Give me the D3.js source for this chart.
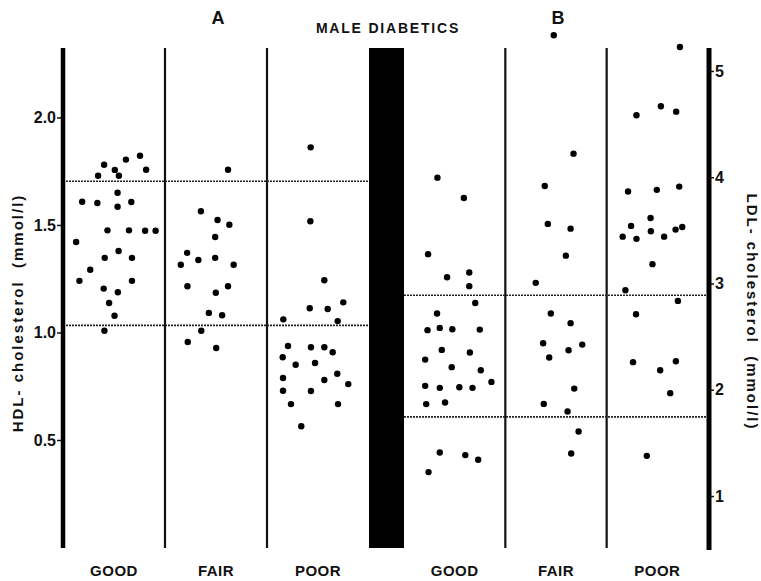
<!DOCTYPE html>
<html>
<head>
<meta charset="utf-8">
<script src="https://cdn.jsdelivr.net/npm/d3@7"></script>
<style>
  body { margin: 0; background: #fff; }
  text { font-family: "Liberation Sans", Arial, sans-serif; font-weight: bold; fill: #111; }
</style>
</head>
<body>
<div id="chart"></div>
<script>
// categories of diabetic control
const categories = ["GOOD", "FAIR", "POOR"];

// panel A: HDL-cholesterol (mmol/l) per category, [value, jitter within column]
const hdlGood = [[1.822,0.755],[1.804,0.617],[1.780,0.403],[1.756,0.508],[1.757,0.815],[1.729,0.344],
  [1.729,0.548],[1.650,0.535],[1.608,0.188],[1.602,0.337],[1.607,0.670],[1.585,0.535],[1.475,0.436],
  [1.475,0.647],[1.473,0.805],[1.473,0.908],[1.421,0.129],[1.379,0.545],[1.347,0.409],[1.347,0.676],
  [1.292,0.267],[1.240,0.161],[1.240,0.676],[1.204,0.399],[1.187,0.538],[1.137,0.452],[1.078,0.505],[1.008,0.406]];
const hdlFair = [[1.757,0.618],[1.564,0.352],[1.523,0.515],[1.501,0.631],[1.444,0.492],[1.370,0.217],
  [1.347,0.492],[1.337,0.327],[1.315,0.155],[1.315,0.673],[1.215,0.220],[1.215,0.618],[1.185,0.498],
  [1.091,0.430],[1.080,0.560],[1.008,0.356],[0.956,0.223],[0.928,0.502]];
const hdlPoor = [[1.861,0.428],[1.517,0.425],[1.243,0.562],[1.140,0.748],[1.113,0.419],[1.109,0.595],
  [1.061,0.160],[1.053,0.693],[0.937,0.206],[0.931,0.431],[0.931,0.562],[0.908,0.644],[0.885,0.154],
  [0.850,0.281],[0.858,0.471],[0.808,0.689],[0.760,0.797],[0.788,0.157],[0.779,0.562],[0.729,0.157],
  [0.728,0.431],[0.667,0.235],[0.667,0.696],[0.564,0.336]];

// panel B: LDL-cholesterol (mmol/l) per category, [value, jitter within column]
const ldlGood = [[3.996,0.330],[3.805,0.591],[3.276,0.238],[3.059,0.425],[3.103,0.644],[2.975,0.644],
  [2.817,0.703],[2.717,0.326],[2.561,0.232],[2.582,0.353],[2.570,0.477],[2.566,0.748],[2.375,0.373],
  [2.350,0.650],[2.284,0.209],[2.213,0.471],[2.184,0.758],[2.074,0.863],[2.037,0.209],[2.018,0.353],
  [2.024,0.546],[2.018,0.676],[1.865,0.219],[1.880,0.405],[1.409,0.353],[1.385,0.605],[1.341,0.732],[1.225,0.242]];
const ldlFair = [[5.336,0.478],[4.222,0.673],[3.918,0.389],[3.561,0.419],[3.516,0.644],[3.262,0.597],
  [3.006,0.300],[2.717,0.449],[2.627,0.644],[2.438,0.373],[2.425,0.759],[2.372,0.624],[2.303,0.433],
  [2.011,0.680],[1.867,0.379],[1.795,0.614],[1.607,0.723],[1.400,0.650]];
const ldlPoor = [[5.226,0.723],[4.668,0.535],[4.583,0.294],[4.617,0.686],[3.912,0.716],[3.881,0.495],
  [3.865,0.211],[3.617,0.433],[3.542,0.241],[3.532,0.746],[3.507,0.680],[3.441,0.158],[3.420,0.294],
  [3.492,0.436],[3.441,0.567],[3.182,0.452],[2.937,0.185],[2.836,0.703],[2.711,0.290],[2.260,0.260],
  [2.269,0.683],[2.184,0.528],[1.968,0.627],[1.378,0.396]];

// reference limits (dotted lines)
const hdlLimits = [1.703, 1.033];
const ldlLimits = [2.890, 1.745];

// tick values
const hdlTicks = [0.5, 1.0, 1.5, 2.0];
const ldlTicks = [1, 2, 3, 4, 5];

const width = 761, height = 581;
const plotTop = 48, plotBottom = 548;

let svg = d3.select("#chart").append("svg")
    .attr("width", width)
    .attr("height", height);

// scales for both panels
let xA = d3.scaleBand().domain(categories).range([63, 369]);
let xB = d3.scaleBand().domain(categories).range([404, 708]);
let yHDL = d3.scaleLinear().domain([0, 2.323]).range([547.5, plotTop]);
let yLDL = d3.scaleLinear().domain([0.511, 5.216]).range([plotBottom, plotTop]);

// black separator bar between the panels
svg.append("rect")
    .attr("x", xA.range()[1])
    .attr("y", plotTop)
    .attr("width", xB.range()[0] - xA.range()[1])
    .attr("height", plotBottom - plotTop)
    .attr("fill", "#000");

// column dividers
function drawDividers(x) {
    categories.slice(1).forEach(function(c) {
        svg.append("line")
            .attr("x1", x(c)).attr("x2", x(c))
            .attr("y1", plotTop).attr("y2", plotBottom)
            .attr("stroke", "#111")
            .attr("stroke-width", 2.2);
    });
}
drawDividers(xA);
drawDividers(xB);

// dotted reference lines
function drawLimits(limits, x, y) {
    limits.forEach(function(v) {
        svg.append("line")
            .attr("x1", x.range()[0]).attr("x2", x.range()[1])
            .attr("y1", y(v)).attr("y2", y(v))
            .attr("stroke", "#222")
            .attr("stroke-width", 1.6)
            .attr("stroke-dasharray", "2,1");
    });
}
drawLimits(hdlLimits, xA, yHDL);
drawLimits(ldlLimits, xB, yLDL);

// left axis (HDL)
let axisA = svg.append("g")
    .attr("transform", "translate(63,0)")
    .call(d3.axisLeft(yHDL).tickValues(hdlTicks).tickFormat(d3.format(".1f")).tickSize(6).tickPadding(1));
axisA.select(".domain").remove();
svg.append("line")
    .attr("x1", 63).attr("x2", 63)
    .attr("y1", plotTop).attr("y2", plotBottom)
    .attr("stroke", "#000").attr("stroke-width", 4.5);

// right axis (LDL)
let axisB = svg.append("g")
    .attr("transform", "translate(708,0)")
    .call(d3.axisRight(yLDL).tickValues(ldlTicks).tickFormat(d3.format("d")).tickSize(6).tickPadding(1));
axisB.select(".domain").remove();
svg.append("line")
    .attr("x1", 709).attr("x2", 709)
    .attr("y1", plotTop).attr("y2", 550)
    .attr("stroke", "#000").attr("stroke-width", 5);

svg.selectAll(".tick line").attr("stroke", "#111").attr("stroke-width", 1.5);
svg.selectAll(".tick text")
    .style("font-size", "16px")
    .style("font-family", "'Liberation Sans', Arial, sans-serif")
    .style("font-weight", "bold")
    .attr("fill", "#111");

// scatter points
function drawPoints(data, cat, x, y) {
    svg.append("g").selectAll("circle")
        .data(data)
        .enter().append("circle")
        .attr("cx", function(d) { return x(cat) + d[1] * x.bandwidth(); })
        .attr("cy", function(d) { return y(d[0]); })
        .attr("r", 3.2)
        .attr("fill", "#000");
}
drawPoints(hdlGood, "GOOD", xA, yHDL);
drawPoints(hdlFair, "FAIR", xA, yHDL);
drawPoints(hdlPoor, "POOR", xA, yHDL);
drawPoints(ldlGood, "GOOD", xB, yLDL);
drawPoints(ldlFair, "FAIR", xB, yLDL);
drawPoints(ldlPoor, "POOR", xB, yLDL);

// category labels under both panels
[xA, xB].forEach(function(x) {
    svg.append("g").selectAll("text")
        .data(categories)
        .enter().append("text")
        .attr("x", function(d) { return x(d) + x.bandwidth() / 2; })
        .attr("y", 576)
        .attr("text-anchor", "middle")
        .style("font-size", "15px")
        .style("letter-spacing", "0.5px")
        .text(function(d) { return d; });
});

// titles
svg.append("text")
    .attr("x", 218).attr("y", 24)
    .attr("text-anchor", "middle")
    .style("font-size", "18px")
    .text("A");
svg.append("text")
    .attr("x", 558).attr("y", 24)
    .attr("text-anchor", "middle")
    .style("font-size", "18px")
    .text("B");
svg.append("text")
    .attr("x", 388).attr("y", 33)
    .attr("text-anchor", "middle")
    .style("font-size", "14px")
    .style("letter-spacing", "1.8px")
    .text("MALE DIABETICS");

// y axis labels
svg.append("text")
    .attr("transform", "translate(23,313) rotate(-90)")
    .attr("text-anchor", "middle")
    .style("font-size", "15px")
    .style("letter-spacing", "2px")
    .style("white-space", "pre")
    .text("HDL- cholesterol  (mmol/l)");
svg.append("text")
    .attr("transform", "translate(747,312) rotate(90)")
    .attr("text-anchor", "middle")
    .style("font-size", "15px")
    .style("letter-spacing", "2px")
    .style("white-space", "pre")
    .text("LDL- cholesterol  (mmol/l)");
</script>
</body>
</html>
